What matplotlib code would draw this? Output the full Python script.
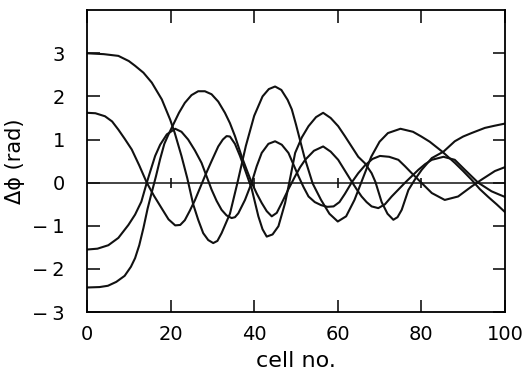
import numpy as np
import matplotlib.pyplot as plt

# phase difference along the chain, four runs
xa = [0, 4, 7.5, 10, 11.5, 13.5, 15.5, 17.9, 19.9, 21, 22.6, 24, 25.4, 26.6, 27.8, 29, 30.2, 31.2, 32.2,
      34.2, 36, 38, 40, 42, 43.5, 45, 46.5, 48, 49, 50, 52, 54, 56, 58, 60, 62, 64, 66, 68, 70, 72,
      75, 78, 80, 82, 85, 88, 90, 92, 94, 96, 98, 100]
ya = [3.0, 2.98, 2.94, 2.82, 2.71, 2.55, 2.32, 1.93, 1.46, 1.15, 0.62, 0.1, -0.5, -0.86, -1.17, -1.33, -1.40, -1.35, -1.17,
      -0.72, 0.0, 0.85, 1.55, 2.0, 2.17, 2.23, 2.15, 1.92, 1.70, 1.35, 0.6, -0.02, -0.40, -0.72, -0.9, -0.78, -0.4, 0.1, 0.6, 0.95, 1.15,
      1.25, 1.18, 1.07, 0.95, 0.72, 0.46, 0.27, 0.07, -0.15, -0.33, -0.5, -0.68]

xb = [0, 2, 4.3, 6, 7.5, 9, 10.7, 12.5, 14.3, 16, 17.9, 19.5, 21.1, 22.3, 23.4, 24.6, 25.8, 27, 28.2, 29.8,
      31.4, 32.5, 33.4, 34.2, 35.4, 36.6, 37.8, 39.4, 41, 42, 43, 44.4, 45.8, 47.4, 48.6, 49.8, 51.4, 53,
      54.8, 56.5, 58.3, 60.1, 61.7, 63.3, 64.9, 66.5, 68.1, 69, 70.5, 71.9, 73.3, 74.3, 75.3, 76.9, 78.5,
      80.1, 82.5, 85.3, 88, 90, 92, 95.2, 97.5, 100]
yb = [1.62, 1.61, 1.54, 1.42, 1.23, 1.02, 0.77, 0.4, 0.0, -0.3, -0.6, -0.85, -0.99, -0.98, -0.87, -0.65, -0.41, -0.13, 0.15, 0.5,
      0.84, 1.0, 1.08, 1.07, 0.9, 0.62, 0.30, -0.14, -0.78, -1.08, -1.25, -1.2, -1.01, -0.47, 0.1, 0.69, 1.05, 1.31,
      1.52, 1.62, 1.5, 1.31, 1.08, 0.84, 0.6, 0.45, 0.22, 0.02, -0.45, -0.72, -0.86, -0.8, -0.63, -0.17, 0.08,
      0.30, 0.57, 0.72, 0.96, 1.07, 1.15, 1.27, 1.32, 1.37]

xc = [0, 2.5, 5.1, 7.5, 9.9, 11.5, 13, 14.3, 15, 16.3, 17.5, 19.1, 21.1, 22.6, 24.2, 25.8, 27.4, 28.6, 29.8,
      31, 32.2, 33.4, 34.6, 35.4, 36.2, 37.8, 39.4, 40.6, 41.8, 43.4, 45, 46.6, 48.2, 49.4, 50.6, 51.8, 53,
      54.5, 56, 57.5, 59, 60.4, 61.7, 63.3, 64.9, 66.5, 68.3, 70.1, 72.3, 74.5, 76.1, 77.7, 80, 82.5, 85.6,
      88.8, 92, 94.4, 97.6, 100]
yc = [-1.55, -1.53, -1.45, -1.28, -0.98, -0.74, -0.44, 0.0, 0.22, 0.62, 0.88, 1.12, 1.25, 1.18, 1.0, 0.75, 0.46, 0.15, -0.16,
      -0.42, -0.63, -0.76, -0.82, -0.8, -0.71, -0.40, 0.0, 0.38, 0.69, 0.9, 0.96, 0.88, 0.69, 0.42, 0.15, -0.1, -0.32,
      -0.45, -0.52, -0.56, -0.55, -0.45, -0.26, 0.0, 0.22, 0.40, 0.55, 0.62, 0.60, 0.53, 0.38, 0.22, 0.0, -0.24, -0.40,
      -0.32, -0.09, 0.07, 0.27, 0.36]

xd = [0, 3, 5, 7, 9, 10.5, 11.5, 12.5, 13.5, 14.5, 15.5, 16.5, 17.5, 18.5, 19.5, 20.4, 22, 23.4, 25, 26.6, 28.2, 29.8, 31.4, 33,
      34.2, 35.4, 37, 38.2, 39.4, 40.6, 41.8, 43, 44.2, 45.4, 46.6, 48.2, 49.8, 51, 52.2, 54.3, 56.5, 58.3,
      60.1, 61.7, 63.3, 64.5, 65.7, 66.9, 68.1, 69.7, 71.3, 72.9, 74.5, 76.1, 77.7, 79.3, 80.9, 82.5, 85.3,
      88, 90.4, 92, 93.6, 95.2, 96.8, 98.5, 100]
yd = [-2.43, -2.42, -2.39, -2.3, -2.16, -1.95, -1.75, -1.45, -1.05, -0.6, -0.22, 0.15, 0.55, 0.9, 1.12, 1.3, 1.62, 1.85, 2.03, 2.12, 2.12, 2.05, 1.88, 1.62,
      1.38, 1.08, 0.61, 0.3, 0.0, -0.25, -0.47, -0.66, -0.78, -0.7, -0.47, -0.15, 0.15, 0.36, 0.53, 0.74, 0.84, 0.72,
      0.53, 0.28, 0.03, -0.15, -0.32, -0.45, -0.55, -0.59, -0.5, -0.32, -0.16, 0.0, 0.15, 0.30, 0.43, 0.53, 0.60,
      0.53, 0.30, 0.15, 0.0, -0.1, -0.2, -0.27, -0.33]

xticks = [0, 20, 40, 60, 80, 100]
yticks = [-3, -2, -1, 0, 1, 2, 3]
ylabels = ['\u2212\u20093', '\u2212\u20092', '\u2212\u20091', '0', '1', '2', '3']

fig = plt.figure(figsize=(5.29, 3.76), dpi=100)
ax = fig.add_axes([0.1645, 0.170, 0.790, 0.803])

for xs, ys in [(xa, ya), (xb, yb), (xc, yc), (xd, yd)]:
    ax.plot(xs, ys, color='#111111', lw=1.5, solid_joinstyle='round')

ax.axhline(0, color='#111111', lw=1.1)
ax.plot(xticks[1:-1], [0] * 4, ls='none', marker='|', ms=7, mew=1.2, color='#111111')

ax.set_xlim(0, 100)
ax.set_ylim(-3, 4)
ax.set_xticks(xticks)
ax.set_xticklabels(xticks)
ax.set_yticks(yticks)
ax.set_yticklabels(ylabels)
ax.tick_params(direction='in', length=9, width=1.1, top=True, right=True,
               labelsize=14, pad=9)
ax.tick_params(axis='y', pad=16)
for s in ax.spines.values():
    s.set_linewidth(1.3)

ax.set_xlabel('cell no.', fontsize=16, labelpad=5)
ax.set_ylabel('Δϕ (rad)', fontsize=15, labelpad=5)

plt.savefig('out.png', dpi=100)
